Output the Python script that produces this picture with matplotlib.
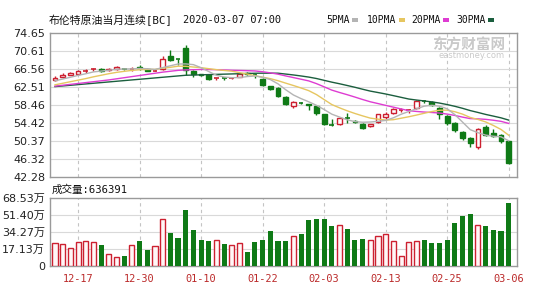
import matplotlib
matplotlib.use("Agg")
import matplotlib.pyplot as plt
from matplotlib.patches import Rectangle

plt.rcParams.update({
    "font.family": ["DejaVu Sans", "Noto Sans CJK SC"],
    "font.size": 8,
})

# ---- data ----
opens = [64.0, 64.7, 65.15, 65.4, 66.05, 66.45, 66.5, 66.4, 66.55, 66.6,
         66.5, 66.95, 66.5, 66.1, 66.5, 69.5, 68.8, 71.2, 66.2, 65.4,
         65.1, 64.4, 64.5, 64.5, 64.8, 65.7, 65.2, 64.4, 62.7, 62.2,
         60.2, 58.3, 58.9, 58.7, 58.3, 56.4, 54.0, 54.1, 55.5, 54.8,
         54.3, 53.75, 54.7, 55.7, 56.6, 57.3, 57.2, 57.7, 59.5, 59.2,
         57.7, 56.0, 54.5, 52.5, 51.0, 49.0, 53.5, 52.2, 51.8, 50.3]
highs = [65.0, 65.7, 65.8, 66.3, 66.6, 66.8, 66.8, 66.8, 67.2, 66.8,
         66.9, 67.5, 66.7, 66.4, 69.5, 70.8, 68.9, 71.9, 66.3, 65.5,
         65.2, 64.6, 64.6, 64.8, 65.5, 65.9, 65.5, 64.5, 62.8, 62.4,
         60.4, 59.3, 59.1, 58.8, 58.5, 56.5, 55.4, 55.8, 56.6, 55.0,
         54.5, 54.3, 56.5, 56.9, 57.7, 57.7, 57.6, 59.5, 59.7, 59.4,
         58.1, 56.2, 54.6, 52.7, 51.2, 53.2, 53.9, 53.0, 52.0, 50.4]
lows = [63.9, 64.6, 65.1, 65.2, 65.7, 66.2, 65.9, 66.2, 66.4, 66.3,
        66.2, 66.3, 66.0, 66.0, 66.3, 68.4, 67.4, 65.2, 64.7, 65.0,
        64.0, 64.1, 64.0, 64.3, 64.7, 65.3, 64.6, 62.8, 61.9, 60.3,
        58.5, 57.9, 58.6, 57.3, 56.3, 53.9, 53.8, 54.0, 54.4, 54.4,
        53.1, 53.6, 54.5, 55.3, 56.4, 57.0, 56.7, 57.6, 59.0, 58.3,
        55.3, 53.9, 52.3, 50.6, 49.0, 48.5, 51.4, 51.2, 49.9, 45.1]
closes = [64.5, 65.2, 65.6, 66.0, 66.15, 66.55, 66.15, 66.55, 67.05, 66.55,
          66.6, 66.7, 66.2, 66.2, 68.7, 68.6, 68.7, 66.3, 65.4, 65.2,
          64.3, 64.5, 64.4, 64.6, 65.4, 65.4, 65.1, 62.9, 62.1, 60.6,
          58.8, 59.2, 58.8, 58.55, 56.6, 54.1, 53.95, 55.6, 55.4, 54.6,
          53.4, 54.2, 56.4, 56.4, 57.5, 57.4, 57.3, 59.4, 59.4, 58.5,
          56.4, 54.4, 52.8, 51.0, 50.0, 53.0, 51.7, 51.5, 50.4, 45.5]
# volume in 万
volumes = [22.8, 22.1, 18.0, 24.1, 24.8, 24.1, 21.0, 11.9, 9.2, 9.9,
           20.7, 25.1, 16.0, 20.0, 47.2, 33.2, 28.2, 56.6, 36.3, 26.1,
           25.1, 26.1, 22.1, 20.7, 22.8, 13.9, 24.1, 26.1, 35.3, 25.1,
           25.1, 30.2, 32.2, 46.5, 47.5, 47.5, 40.4, 41.4, 37.3, 26.1,
           27.1, 26.1, 30.2, 32.2, 25.1, 9.9, 23.8, 25.1, 26.1, 23.1,
           23.1, 26.1, 43.4, 50.5, 52.6, 41.4, 40.4, 36.6, 35.3, 63.8]

ma5 = [63.9, 64.3, 64.7, 65.12, 65.49, 65.9, 66.09, 66.28, 66.49, 66.57,
       66.58, 66.69, 66.62, 66.45, 66.88, 67.28, 67.68, 67.7, 67.54, 66.84,
       65.98, 65.14, 64.76, 64.6, 64.64, 64.86, 64.98, 64.68, 64.18, 63.22,
       61.9, 60.72, 59.9, 59.19, 58.39, 57.45, 56.4, 55.76, 55.13, 54.73,
       54.59, 54.64, 54.8, 55.0, 55.58, 56.38, 57.0, 57.6, 58.2, 58.4,
       58.2, 57.62, 56.3, 54.62, 52.92, 52.24, 51.7, 51.44, 51.32, 50.42]
ma10 = [63.0, 63.35, 63.7, 64.05, 64.4, 64.8, 65.15, 65.5, 65.8, 66.03,
        66.24, 66.39, 66.45, 66.47, 66.73, 66.93, 67.19, 67.16, 67.0, 66.86,
        66.63, 66.41, 66.23, 66.07, 65.74, 65.42, 65.06, 64.72, 64.39, 63.93,
        63.38, 62.85, 62.29, 61.69, 60.81, 59.68, 58.56, 57.83, 57.16, 56.56,
        56.02, 55.52, 55.28, 55.07, 55.16, 55.49, 55.82, 56.2, 56.6, 56.99,
        57.29, 57.31, 56.95, 56.41, 55.66, 55.22, 54.66, 53.87, 52.97, 51.67]
ma20 = [62.7, 62.9, 63.1, 63.3, 63.5, 63.7, 63.9, 64.1, 64.35, 64.6,
        64.85, 65.1, 65.35, 65.6, 65.85, 66.05, 66.25, 66.35, 66.4, 66.45,
        66.44, 66.4, 66.34, 66.27, 66.23, 66.18, 66.12, 65.94, 65.69, 65.4,
        65.0, 64.63, 64.26, 63.88, 63.27, 62.55, 61.81, 61.28, 60.78, 60.25,
        59.7, 59.19, 58.79, 58.38, 57.98, 57.58, 57.19, 57.02, 56.88, 56.78,
        56.66, 56.42, 56.12, 55.74, 55.41, 55.35, 55.24, 55.04, 54.79, 54.33]
ma30 = [62.6, 62.75, 62.9, 63.05, 63.2, 63.35, 63.5, 63.65, 63.8, 63.95,
        64.1, 64.25, 64.4, 64.55, 64.7, 64.85, 65.0, 65.15, 65.2, 65.25,
        65.3, 65.35, 65.4, 65.45, 65.5, 65.55, 65.6, 65.62, 65.62, 65.61,
        65.42, 65.22, 64.99, 64.74, 64.42, 64.01, 63.6, 63.24, 62.85, 62.45,
        62.01, 61.59, 61.27, 60.94, 60.57, 60.19, 59.81, 59.58, 59.38, 59.16,
        58.9, 58.56, 58.17, 57.72, 57.21, 56.79, 56.35, 55.97, 55.58, 55.07]

date_ticks = [3, 11, 19, 27, 35, 43, 51, 59]
date_labels = ["12-17", "12-30", "01-10", "01-22", "02-03", "02-13", "02-25", "03-06"]
price_ticks = [42.28, 46.32, 50.37, 54.42, 58.46, 62.51, 66.56, 70.61, 74.65]
vol_ticks = [0, 17.13, 34.27, 51.40, 68.53]
vol_labels = ["0", "17.13万", "34.27万", "51.40万", "68.53万"]

RED = "#cc2030"
GREEN = "#0f7a16"
MA_COLORS = {"5PMA": "#b4b4b4", "10PMA": "#e6c660", "20PMA": "#de3cd2", "30PMA": "#1b5e3e"}
MONO = ["DejaVu Sans Mono", "Noto Sans CJK SC"]

W, H = 535, 300
fig = plt.figure(figsize=(W / 100, H / 100), dpi=100)
ax = fig.add_axes([50 / W, 1 - 177 / H, 467 / W, 144 / H])
axv = fig.add_axes([50 / W, 1 - 265.7 / H, 467 / W, 67.4 / H])

n = len(closes)
xs = list(range(n))

for a in (ax, axv):
    a.set_xlim(-0.65, 60.08)
    for s in a.spines.values():
        s.set_color("#9a9a9a")
        s.set_linewidth(1.0)
    a.tick_params(length=0, labelsize=8, colors="#222222")
    for t in date_ticks:
        a.axvline(t, color="#c4c4c4", linestyle=(0, (3, 3)), linewidth=0.8, zorder=0)

# price panel
ax.set_ylim(price_ticks[0], price_ticks[-1])
ax.set_yticks(price_ticks)
ax.set_yticklabels([f"{v:.2f}" for v in price_ticks])
ax.set_xticks([])
for v in price_ticks[1:-1]:
    ax.axhline(v, color="#d9d9d9", linewidth=0.8, zorder=0)

bw = 0.62
for i in xs:
    o, h, l, c = opens[i], highs[i], lows[i], closes[i]
    up = c >= o
    col = RED if up else GREEN
    ax.vlines(i, l, h, color=col, linewidth=1.0, zorder=3)
    lo, hi = min(o, c), max(o, c)
    if hi - lo < 0.12:
        ax.hlines((o + c) / 2, i - bw / 2, i + bw / 2, color=col, linewidth=1.2, zorder=4)
    else:
        ax.add_patch(Rectangle((i - bw / 2, lo), bw, hi - lo,
                               facecolor="white" if up else col, edgecolor=col,
                               linewidth=1.0, zorder=4))

for name, vals in (("30PMA", ma30), ("20PMA", ma20), ("10PMA", ma10), ("5PMA", ma5)):
    ax.plot(xs, vals, color=MA_COLORS[name], linewidth=1.0, zorder=5)

# volume panel
axv.set_ylim(0, vol_ticks[-1])
axv.set_yticks(vol_ticks)
axv.set_yticklabels(vol_labels)
axv.set_xticks(date_ticks)
axv.set_xticklabels(date_labels, family=MONO, fontsize=7.4, color="#bb2a2a")
axv.tick_params(axis="x", pad=6)
for v in vol_ticks[1:-1]:
    axv.axhline(v, color="#d9d9d9", linewidth=0.8, zorder=0)

vb = 0.66
for i in xs:
    up = closes[i] >= opens[i]
    if up:
        axv.bar(i, volumes[i], width=vb, facecolor="#fff7f7", edgecolor=RED, linewidth=1.0, zorder=3)
    else:
        axv.bar(i, volumes[i], width=vb, color=GREEN, linewidth=0, zorder=3)

# header texts
fig.text(49 / W, 1 - 20 / H, "布伦特原油当月连续[BC]", family=MONO, fontsize=7.8,
         va="center", ha="left", color="#111111")
fig.text(183 / W, 1 - 20 / H, "2020-03-07 07:00", family=MONO, fontsize=7.4,
         va="center", ha="left", color="#111111")

legend_x = {"5PMA": 326, "10PMA": 367, "20PMA": 411, "30PMA": 456}
for name, lx in legend_x.items():
    fig.text(lx / W, 1 - 20 / H, name, family=MONO, fontsize=7.0, va="center", ha="left",
             color="#111111")
    dx = lx + 6.2 * len(name) + 1
    fig.patches.append(Rectangle((dx / W, 1 - 21.5 / H), 6 / W, 3 / H,
                                 transform=fig.transFigure, facecolor=MA_COLORS[name],
                                 edgecolor="none"))

fig.text(52 / W, 1 - 190 / H, "成交量:636391", family=MONO, fontsize=7.6,
         va="center", ha="left", color="#111111")

# watermark
fig.text(505 / W, 1 - 45 / H, "东方财富网", fontsize=10.5, fontweight="bold",
         color="#c9c9c9", ha="right", va="center", family=["Noto Sans CJK SC"])
fig.text(505 / W, 1 - 56 / H, "eastmoney.com", fontsize=6, color="#c9c9c9",
         ha="right", va="center")

fig.savefig("out.png", dpi=100)
plt.close(fig)
